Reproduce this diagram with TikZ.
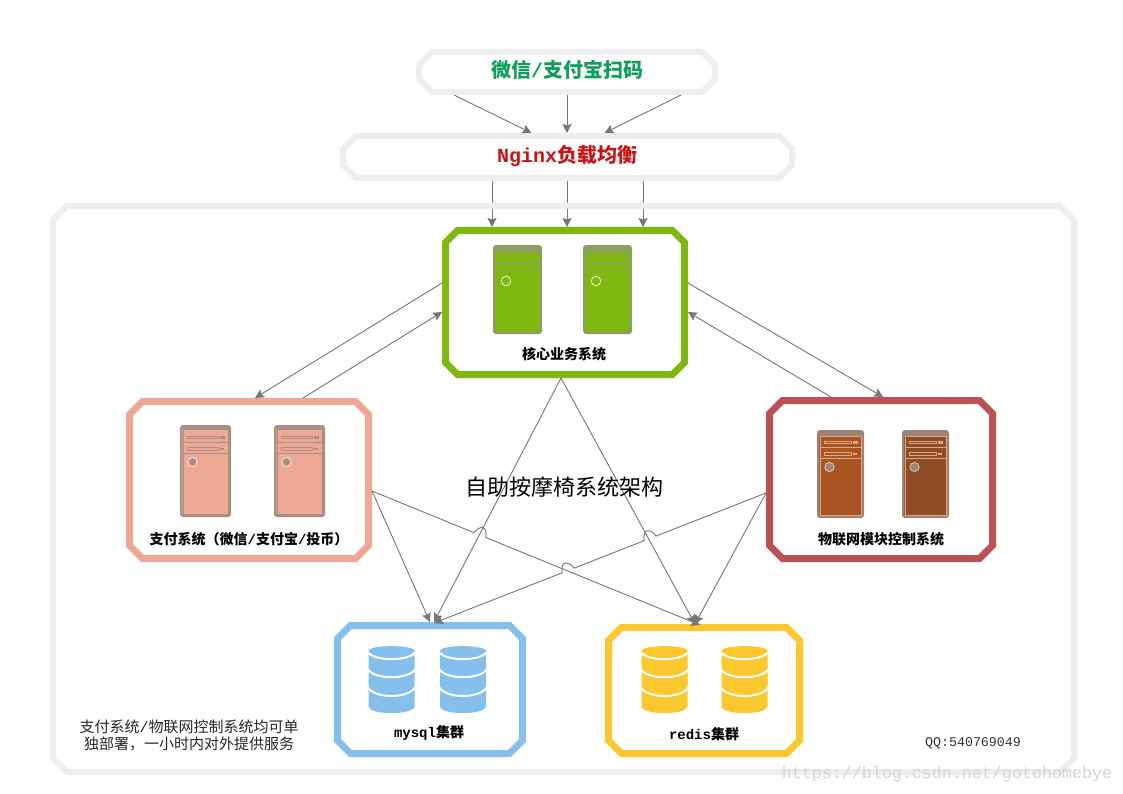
\documentclass[tikz,border=0pt]{standalone}
\usepackage{fontspec}
\setmainfont{Noto Sans CJK SC}
\newfontfamily\latinmono{Liberation Mono}
\usetikzlibrary{calc,arrows.meta}
\definecolor{cgray}{HTML}{EEEEEE}
\definecolor{cgreen}{HTML}{7FB80E}
\definecolor{cgreenedge}{HTML}{8E9E62}
\definecolor{cpink}{HTML}{EEA995}
\definecolor{cpinkedge}{HTML}{A88F86}
\definecolor{cred}{HTML}{BD5052}
\definecolor{cblue}{HTML}{85BFEC}
\definecolor{cyellow}{HTML}{FBC82F}
\definecolor{cline}{HTML}{767676}
\definecolor{cscan}{HTML}{0E9F5B}
\definecolor{cnginx}{HTML}{C81414}
\definecolor{cmark}{HTML}{D4D4D4}
\definecolor{cbrowna}{HTML}{A85522}
\definecolor{cbrownb}{HTML}{8F4C25}
\definecolor{cbandi}{HTML}{9C8478}
\definecolor{clighti}{HTML}{D9A783}
\tikzset{
  slot/.style={rectangle,inner sep=0pt,outer sep=0pt},
  conn/.style={draw=cline,line width=0.9pt,-{Stealth[length=9pt,width=9pt,inset=1.5pt]}},
  lbl/.style={font=\bfseries\fontsize{14}{16}\selectfont,text=black,inner sep=0pt}
}
% chamfered outline round a node: name, colour, half line width, chamfer, fill
\newcommand{\octoutline}[5]{%
  \draw[draw=#2,line width=2*#3 pt,fill=#5,line join=miter]
    ($(#1.north west)+(#3+#4,#3)$) -- ($(#1.north east)+(-#3-#4,#3)$)
    -- ($(#1.north east)+(-#3,#3+#4)$) -- ($(#1.south east)+(-#3,-#3-#4)$)
    -- ($(#1.south east)+(-#3-#4,-#3)$) -- ($(#1.south west)+(#3+#4,-#3)$)
    -- ($(#1.south west)+(#3,-#3-#4)$) -- ($(#1.north west)+(#3,#3+#4)$) -- cycle;}
% tower for the green system: x, y
\newcommand{\greentower}[2]{%
  \begin{scope}[shift={(#1,#2)}]
    \fill[fill=cgreen,draw=cgreenedge,line width=2.6pt,rounded corners=2pt] (1.3,1.3) rectangle (47.7,87.7);
    \fill[cgreenedge] (1,1) rectangle (48,8);
    \draw[cgreenedge,line width=1.5pt] (2,18) -- (47,18) (2,25.5) -- (47,25.5);
    \draw[white!85!cgreen,line width=0.8pt] (13,36) circle (4.8);
  \end{scope}}
% detailed tower: x, y, width, height, fill, stroke, light, top band
\newcommand{\fulltower}[8]{%
  \begin{scope}[shift={(#1,#2)}]
    \fill[fill=#5,draw=#6,line width=2.4pt,rounded corners=2pt] (1.2,1.2) rectangle (#3-1.2,#4-1.2);
    \fill[#6] (1,1) rectangle (#3-1,#8);
    \draw[#7,line width=0.8pt] (3,#8) -- (3,#4-3) -- (#3-3,#4-3) -- (#3-3,#8) -- cycle;
    \draw[#7,line width=0.9pt] (3,17) -- (#3-3,17) (3,28) -- (#3-3,28);
    \draw[fill=#5,draw=#7,line width=0.8pt] (7,11) rectangle (#3-13,13.5);
    \draw[fill=#5,draw=#7,line width=0.8pt] (7,22) rectangle (#3-13,25);
    \fill[#7] (#3-11,11) rectangle (#3-6,13.5);
    \fill[#7] (#3-11,22.5) rectangle (#3-7,24.5);
    \draw[fill=#6,draw=white!60!#5,line width=1pt] (12.5,37) circle (4.6);
  \end{scope}}
% database: x, colour
\newcommand{\dbstack}[2]{%
  \begin{scope}[shift={(#1,646)}]
    \fill[#2] (0,5) .. controls (0,-1.5) and (46,-1.5) .. (46,5) -- (46,60)
       .. controls (46,69.5) and (0,69.5) .. (0,60) -- cycle;
    \draw[white,line width=2pt] (-1,6) .. controls (6,15.5) and (40,15.5) .. (47,6);
    \draw[white,line width=2pt] (-1,23) .. controls (6,34) and (40,34) .. (47,23);
    \draw[white,line width=2pt] (-1,41) .. controls (6,53) and (40,53) .. (47,41);
  \end{scope}}
\begin{document}
\begin{tikzpicture}[x=1pt,y=-1pt]
\useasboundingbox (0,0) rectangle (1123,794);
\fill[white] (0,0) rectangle (1123,794);

\node[slot,minimum width=302pt,minimum height=46pt] (scan) at (567,72) {};
\node[slot,minimum width=455pt,minimum height=48pt] (nginx) at (567.5,157) {};
\node[slot,minimum width=246pt,minimum height=151pt] (core) at (565,302.5) {};
\node[slot,minimum width=1027pt,minimum height=572pt] (outer) at (563.5,489) {};
\node[slot,minimum width=246pt,minimum height=164pt] (pay) at (249,480) {};
\node[slot,minimum width=230pt,minimum height=165pt] (iot) at (881,479.5) {};
\node[slot,minimum width=192pt,minimum height=135pt] (mysql) at (430,689.5) {};
\node[slot,minimum width=198pt,minimum height=133pt] (redis) at (704,690.5) {};

\octoutline{scan}{cgray}{3}{13}{white}
\octoutline{nginx}{cgray}{3}{13}{white}
\octoutline{core}{cgreen}{3.5}{12}{white}

\draw[conn] ($(nginx.south)+(-75.5,0)$) -- ($(core.north)+(-73,0)$);
\draw[conn] (nginx.south -| scan.south) -- (core.north -| scan.south);
\draw[conn] ($(nginx.south)+(75.5,0)$) -- ($(core.north)+(78,0)$);

\octoutline{outer}{cgray}{3}{14}{none}
\octoutline{pay}{cpink}{3.5}{13}{white}
\octoutline{iot}{cred}{3.5}{13}{white}
\octoutline{mysql}{cblue}{3.5}{13}{white}
\octoutline{redis}{cyellow}{3.5}{13}{white}

% top arrows
\draw[conn] ($(scan.south)+(-113,0)$) -- ($(nginx.north)+(-36,0)$);
\draw[conn] (scan.south) -- (nginx.north -| scan.south);
\draw[conn] ($(scan.south)+(114,0)$) -- ($(nginx.north)+(37,0)$);

% core <-> side systems
\draw[conn] ($(core.west)+(0,-19.5)$) -- ($(pay.north)+(6,0)$);
\draw[conn] ($(pay.north)+(54,0)$) -- ($(core.west)+(0,9.5)$);
\draw[conn] ($(core.east)+(0,-19.5)$) -- ($(iot.north)+(2,0)$);
\draw[conn] ($(iot.north)+(-50,0)$) -- ($(core.east)+(0,9.5)$);

% to the databases
\coordinate (apex) at ($(core.south)+(-4,0)$);
\draw[conn] (apex) -- ($(mysql.north)+(4,0)$);
\draw[conn] (apex) -- ($(redis.north)+(-9,0)$);
\draw[conn] ($(pay.east)+(0,11)$) -- (mysql.north);
\draw[conn] ($(iot.west)+(0,13.5)$) -- ($(redis.north)+(-9,0)$);

\coordinate (pA) at ($(pay.east)+(0,11)$);
\coordinate (pB) at ($(redis.north)+(-4,1)$);
\draw[conn] (pA) -- ($(pA)!0.311!(pB)$)
   .. controls +(5,-7) and +(2,-13) .. ($(pA)!0.347!(pB)$) -- (pB);
\coordinate (iA) at ($(iot.west)+(0,13.5)$);
\coordinate (iB) at ($(mysql.north)+(4,1)$);
\draw[conn] (iA) -- ($(iA)!0.331!(iB)$)
   .. controls +(-5,-7) and +(-2,-13) .. ($(iA)!0.367!(iB)$) -- ($(iA)!0.578!(iB)$)
   .. controls +(-5,-7) and +(-2,-13) .. ($(iA)!0.614!(iB)$) -- (iB);

% equipment
\greentower{493}{245}
\greentower{583}{245}
\fulltower{180}{425}{51}{92}{cpink}{cpinkedge}{cpinkedge}{4}
\fulltower{274}{425}{51}{92}{cpink}{cpinkedge}{cpinkedge}{4}
\fulltower{817}{430}{47}{88}{cbrowna}{cbandi}{clighti}{6}
\fulltower{902}{430}{47}{88}{cbrownb}{cbandi}{clighti}{6}
\dbstack{368.5}{cblue}
\dbstack{440}{cblue}
\dbstack{641.5}{cyellow}
\dbstack{721.5}{cyellow}

% labels
\node[inner sep=0pt,font=\bfseries\fontsize{20}{24}\selectfont,text=cscan] (scant) at (567,70) {微信{\latinmono /}支付宝扫码};
\node[inner sep=0pt,font=\bfseries\fontsize{20}{24}\selectfont,text=cnginx] (nginxt) at (567,156) {{\latinmono Nginx}负载均衡};
\node[inner sep=0pt,font=\fontsize{22}{26}\selectfont,text=black] (title) at (564,487) {自助按摩椅系统架构};
\node[lbl] (coret) at (564,354) {核心业务系统};
\node[lbl] (payt) at (246,539) {\hspace{6pt}支付系统（微信{\latinmono /}支付宝{\latinmono /}投币）};
\node[lbl] (iott) at (881,539) {物联网模块控制系统};
\node[lbl] (mysqlt) at (429,733) {{\latinmono mysql}集群};
\node[lbl] (redist) at (704,734) {{\latinmono redis}集群};
\node[inner sep=0pt,align=center,font=\fontsize{15}{17.5}\selectfont,text=black!85] (note) at (189,735.5) {支付系统{\latinmono /}物联网控制系统均可单\\独部署，一小时内对外提供服务};
\node[inner sep=0pt,font=\latinmono\fontsize{13.3}{16}\selectfont,text=black!80] (qq) at (973,743.5) {QQ:540769049};
\node[inner sep=0pt,font=\latinmono\fontsize{16.67}{20}\selectfont,text=cmark] (mark) at (947,774) {https://blog.csdn.net/gotohomebye};
\end{tikzpicture}
\end{document}
